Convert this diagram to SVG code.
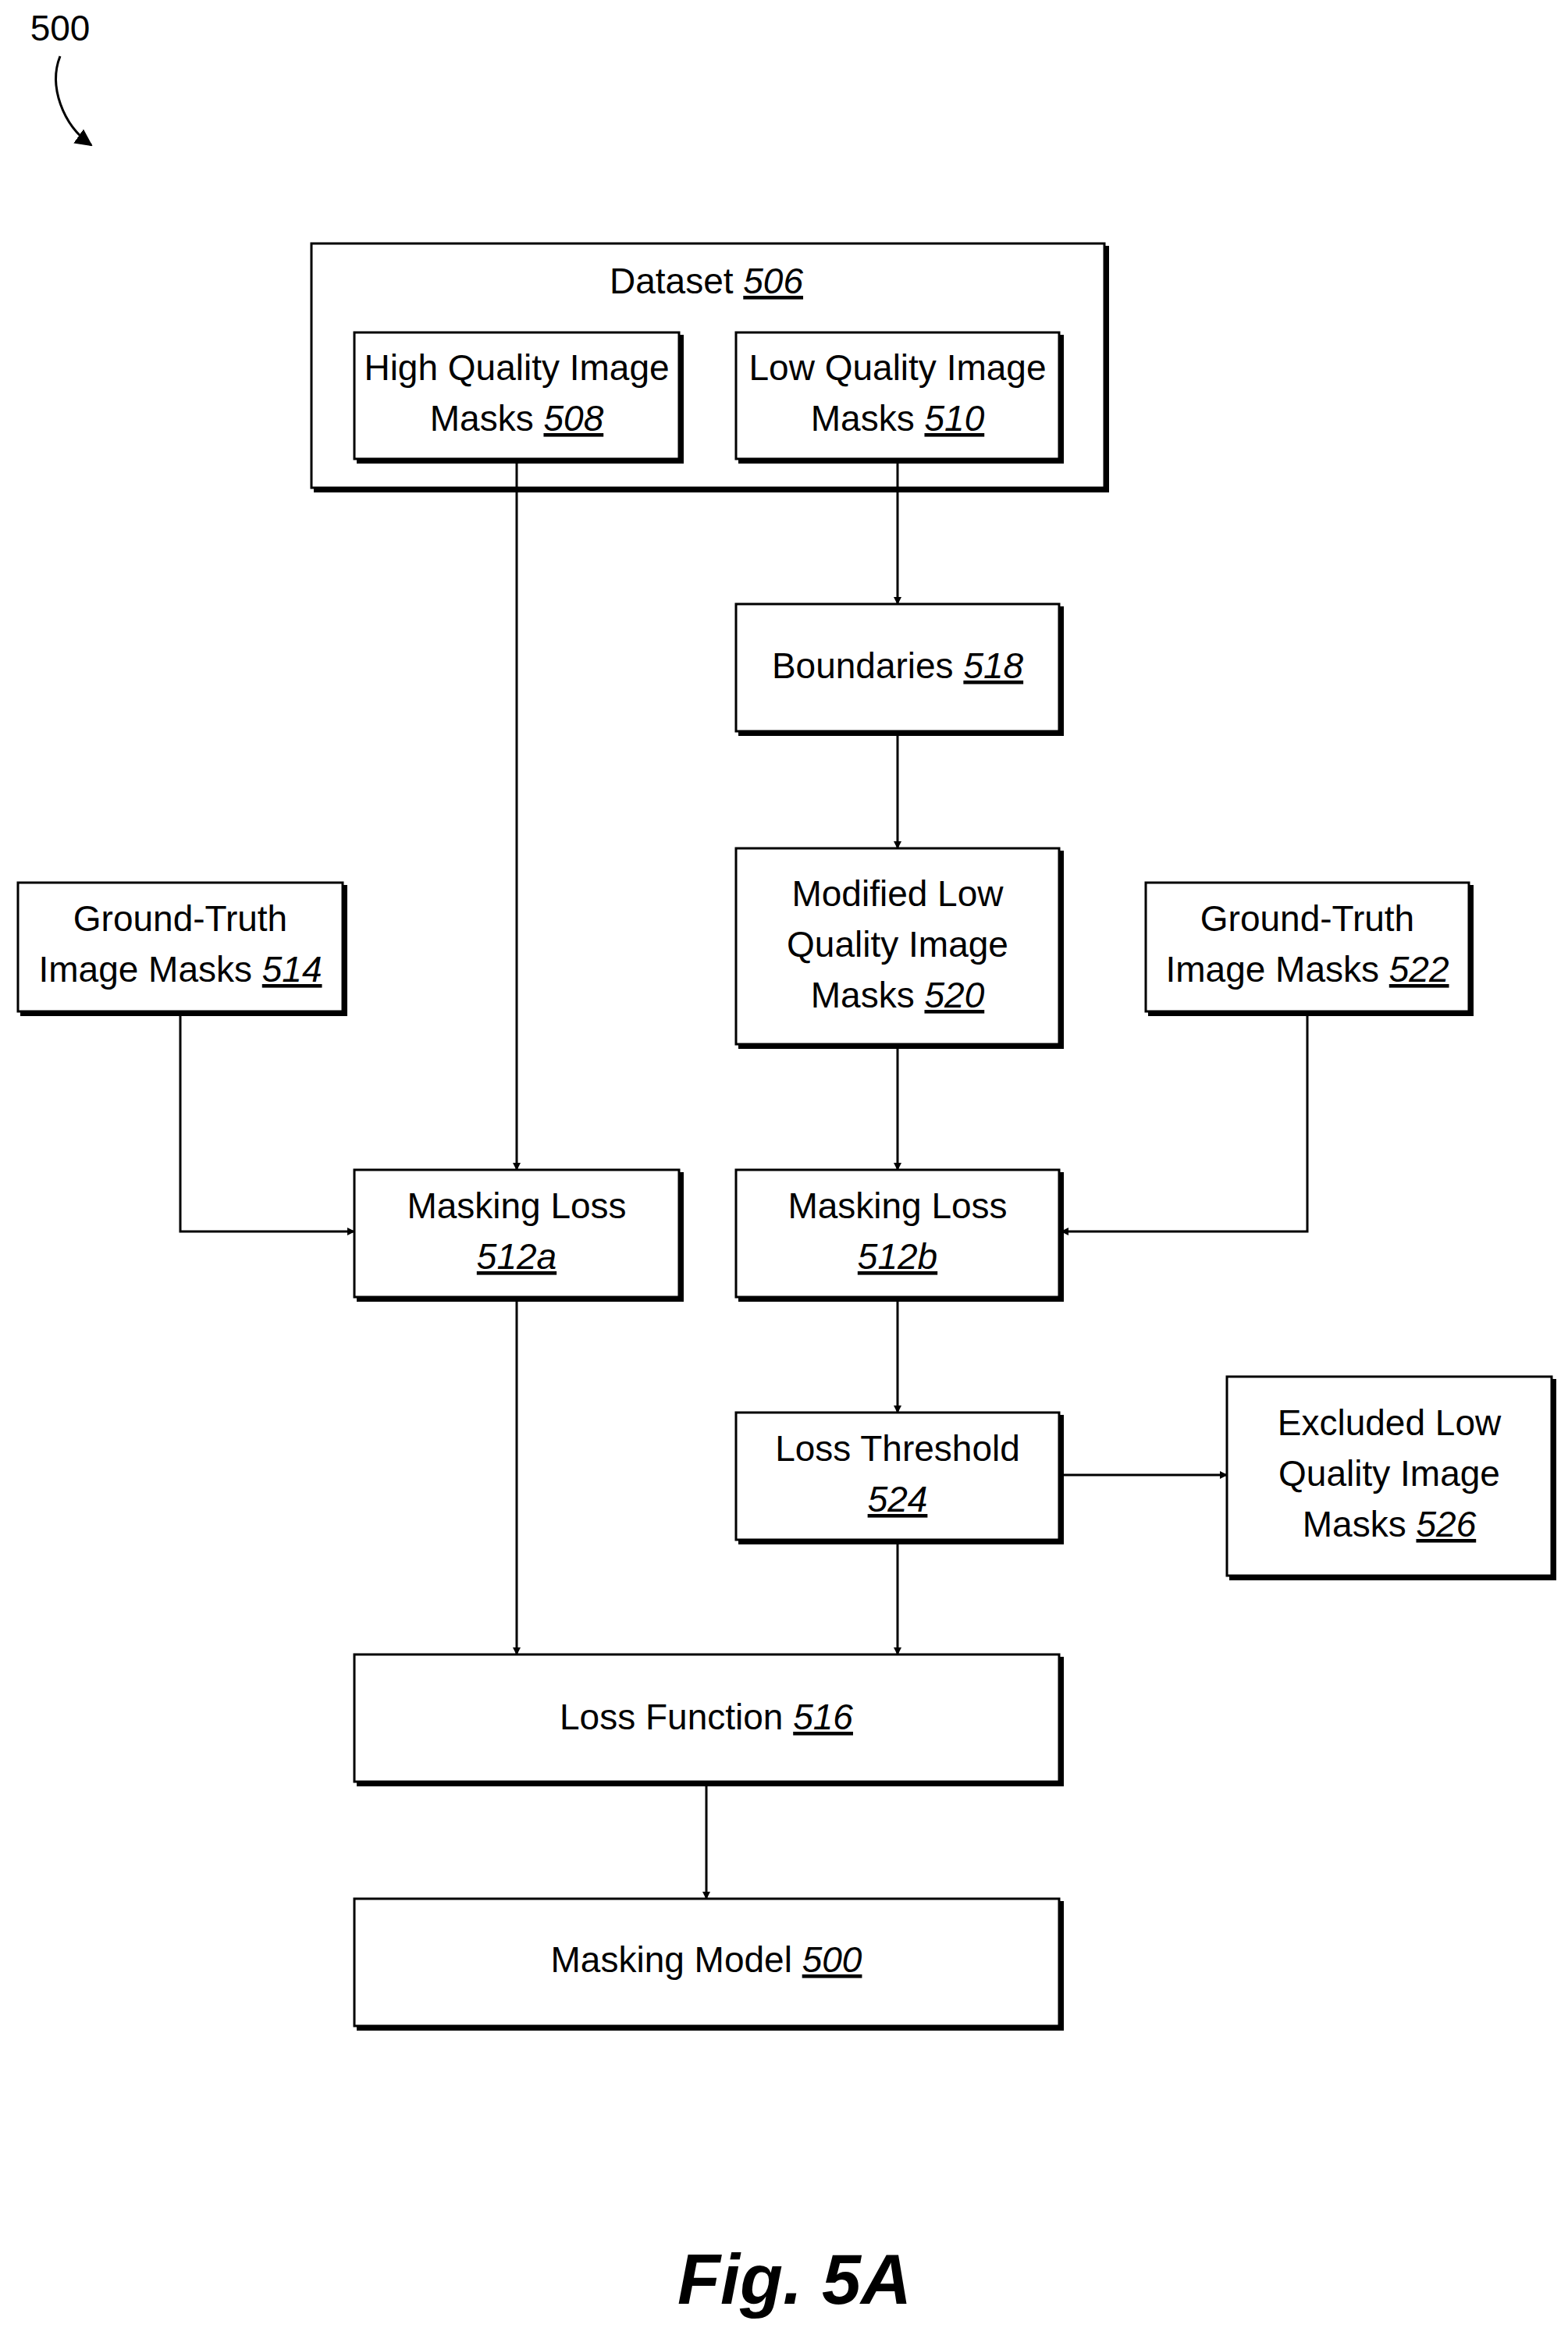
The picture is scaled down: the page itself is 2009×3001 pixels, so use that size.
<svg xmlns="http://www.w3.org/2000/svg" width="2009" height="3001" viewBox="0 0 2009 3001">
<defs>
<style>
.b{fill:#fff;stroke:#000;stroke-width:3}
.s{fill:none;stroke:#000;stroke-width:6}
text{font-family:"Liberation Sans",Arial,sans-serif;font-size:46px;text-anchor:middle;fill:#000}
.n{font-style:italic;text-decoration:underline}
.c{fill:none;stroke:#000;stroke-width:3;marker-end:url(#a)}
</style>
<marker id="a" markerWidth="10" markerHeight="10" refX="9" refY="5" orient="auto" markerUnits="userSpaceOnUse" viewBox="0 0 10 10"><path d="M0,0L10,5L0,10z"/></marker>
<marker id="ah" markerWidth="22" markerHeight="22" refX="20" refY="11" orient="auto" markerUnits="userSpaceOnUse"><path d="M0,0L22,11L0,22z"/></marker>
</defs>
<rect width="2009" height="3001" fill="#fff"/>
<g id="label500"><text x="77" y="52">500</text><path d="M77,72 C62,110 80,160 117,186" fill="none" stroke="#000" stroke-width="3" marker-end="url(#ah)"/></g>
<g id="n506"><path class="s" d="M402,628H1418V315"/><rect class="b" x="399" y="312" width="1016" height="313"/><text x="905" y="376">Dataset <tspan class="n">506</tspan></text></g>
<g id="n508"><path class="s" d="M457,591H873V429"/><rect class="b" x="454" y="426" width="416" height="162"/><text x="662" y="487">High Quality Image</text><text x="662" y="552">Masks <tspan class="n">508</tspan></text></g>
<g id="n510"><path class="s" d="M946,591H1360V429"/><rect class="b" x="943" y="426" width="414" height="162"/><text x="1150" y="487">Low Quality Image</text><text x="1150" y="552">Masks <tspan class="n">510</tspan></text></g>
<g id="n518"><path class="s" d="M946,940H1360V777"/><rect class="b" x="943" y="774" width="414" height="163"/><text x="1150" y="869">Boundaries <tspan class="n">518</tspan></text></g>
<g id="n520"><path class="s" d="M946,1341H1360V1090"/><rect class="b" x="943" y="1087" width="414" height="251"/><text x="1150" y="1161">Modified Low</text><text x="1150" y="1226">Quality Image</text><text x="1150" y="1291">Masks <tspan class="n">520</tspan></text></g>
<g id="n514"><path class="s" d="M26,1299H442V1134"/><rect class="b" x="23" y="1131" width="416" height="165"/><text x="231" y="1193">Ground-Truth</text><text x="231" y="1258">Image Masks <tspan class="n">514</tspan></text></g>
<g id="n522"><path class="s" d="M1471,1299H1885V1134"/><rect class="b" x="1468" y="1131" width="414" height="165"/><text x="1675" y="1193">Ground-Truth</text><text x="1675" y="1258">Image Masks <tspan class="n">522</tspan></text></g>
<g id="n512a"><path class="s" d="M457,1665H873V1502"/><rect class="b" x="454" y="1499" width="416" height="163"/><text x="662" y="1561">Masking Loss</text><text x="662" y="1626"><tspan class="n">512a</tspan></text></g>
<g id="n512b"><path class="s" d="M946,1665H1360V1502"/><rect class="b" x="943" y="1499" width="414" height="163"/><text x="1150" y="1561">Masking Loss</text><text x="1150" y="1626"><tspan class="n">512b</tspan></text></g>
<g id="n524"><path class="s" d="M946,1976H1360V1813"/><rect class="b" x="943" y="1810" width="414" height="163"/><text x="1150" y="1872">Loss Threshold</text><text x="1150" y="1937"><tspan class="n">524</tspan></text></g>
<g id="n526"><path class="s" d="M1575,2022H1991V1767"/><rect class="b" x="1572" y="1764" width="416" height="255"/><text x="1780" y="1839">Excluded Low</text><text x="1780" y="1904">Quality Image</text><text x="1780" y="1969">Masks <tspan class="n">526</tspan></text></g>
<g id="n516"><path class="s" d="M457,2286H1360V2123"/><rect class="b" x="454" y="2120" width="903" height="163"/><text x="905" y="2216">Loss Function <tspan class="n">516</tspan></text></g>
<g id="n500"><path class="s" d="M457,2599H1360V2436"/><rect class="b" x="454" y="2433" width="903" height="163"/><text x="905" y="2527">Masking Model <tspan class="n">500</tspan></text></g>
<g id="connectors">
<path class="c" d="M662,591V1499" marker-end="url(#ah)"/>
<path class="c" d="M1150,591V774" marker-end="url(#ah)"/>
<path class="c" d="M1150,940V1087" marker-end="url(#ah)"/>
<path class="c" d="M1150,1341V1499" marker-end="url(#ah)"/>
<path class="c" d="M231,1299V1578H454" marker-end="url(#ah)"/>
<path class="c" d="M1675,1299V1578H1360" marker-end="url(#ah)"/>
<path class="c" d="M1150,1665V1810" marker-end="url(#ah)"/>
<path class="c" d="M1360,1890H1572" marker-end="url(#ah)"/>
<path class="c" d="M662,1665V2120" marker-end="url(#ah)"/>
<path class="c" d="M1150,1976V2120" marker-end="url(#ah)"/>
<path class="c" d="M905,2286V2433" marker-end="url(#ah)"/>
</g>
<text x="1018" y="2952" style="font-size:90px;font-weight:bold;font-style:italic">Fig. 5A</text>
</svg>
